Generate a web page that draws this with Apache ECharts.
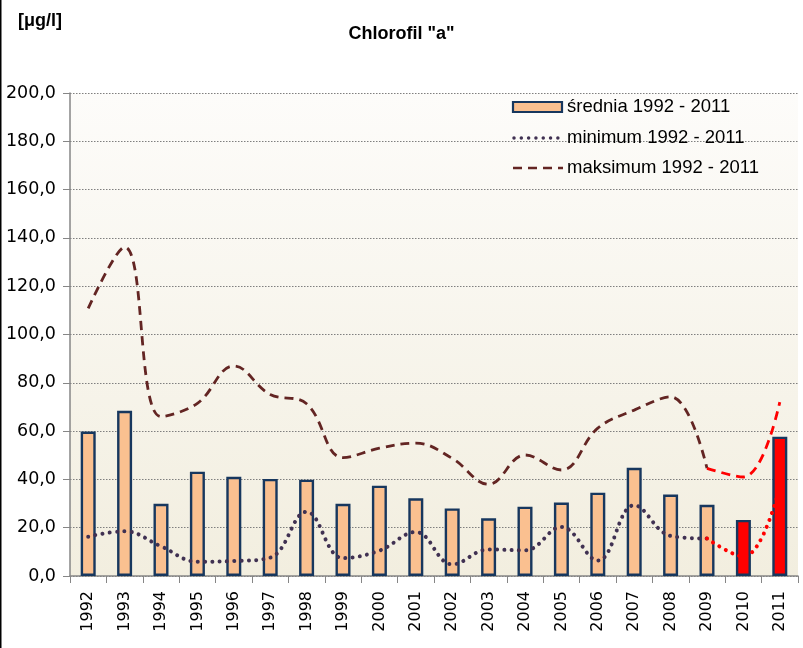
<!DOCTYPE html>
<html><head><meta charset="utf-8">
<script src="https://cdn.jsdelivr.net/npm/echarts@6/dist/echarts.min.js"></script>
<style>html,body{margin:0;padding:0;background:#fff}#c{width:803px;height:648px}</style>
</head><body><div id="c"></div>
<script>
var years = ['1992','1993','1994','1995','1996','1997','1998','1999','2000','2001','2002','2003','2004','2005','2006','2007','2008','2009','2010','2011'];
var srednia = [59.8,68.4,29.9,43.2,41.1,40.2,39.9,29.9,37.4,32.2,28.0,23.9,28.7,30.4,34.5,44.8,33.7,29.5,23.2,57.7];
var minimum = [16.3,18.5,12.3,5.9,6.2,7.6,26.6,7.4,10.5,18.2,4.8,11.0,10.6,20.3,6.4,29.3,16.6,15.5,8.0,37.0];
var maksimum = [110.8,136.2,66.0,71.5,87.0,75.2,71.3,49.0,52.9,55.0,48.7,38.0,50.1,43.9,61.2,68.7,74.2,44.6,41.0,72.0];
var legendNames = ['średnia 1992 - 2011','minimum 1992 - 2011','maksimum 1992 - 2011'];
var highlightFrom = 17; // red segment starts at 2009
var redBars = ['2010','2011'];

var chart = echarts.init(document.getElementById('c'));
function part(arr, from, to){ return arr.map(function(v,i){ return (i>=from && i<=to) ? v : '-'; }); }
var barData = srednia.map(function(v,i){
  return redBars.indexOf(years[i])>=0 ? {value:v, itemStyle:{color:'#FF0000'}} : v;
});
var dotted = [0.01, 7.3];
var dashed = [9, 6];
var lx = 513, ly = [107, 138, 168];
var legendFont = '18.5px "Liberation Sans"';
chart.setOption({
  animation:false,
  backgroundColor:'#ffffff',
  title:{text:'Chlorofil "a"', left:'center', top:20,
    textStyle:{fontFamily:'Liberation Sans', fontSize:18, fontWeight:'bold', color:'#000'}},
  graphic:[
    {type:'text', left:18, top:12, style:{text:'[μg/l]', font:'bold 18px "Liberation Sans"', fill:'#000'}},
    {type:'rect', shape:{x:0,y:0,width:1.5,height:648}, style:{fill:'#000'}, z:100},
    {type:'rect', shape:{x:lx, y:ly[0]-5, width:49, height:10}, style:{fill:'#FAC090', stroke:'#17375E', lineWidth:2.2}, z:100},
    {type:'line', shape:{x1:lx+1, y1:ly[1], x2:lx+50, y2:ly[1]}, style:{stroke:'#403152', lineWidth:3.5, lineDash:dotted, lineCap:'round'}, z:100},
    {type:'line', shape:{x1:lx, y1:ly[2], x2:lx+50, y2:ly[2]}, style:{stroke:'#632523', lineWidth:2.5, lineDash:dashed}, z:100},
    {type:'text', x:lx+54, y:ly[0], style:{text:legendNames[0], font:legendFont, fill:'#000', verticalAlign:'middle'}, z:100},
    {type:'text', x:lx+54, y:ly[1], style:{text:legendNames[1], font:legendFont, fill:'#000', verticalAlign:'middle'}, z:100},
    {type:'text', x:lx+54, y:ly[2], style:{text:legendNames[2], font:legendFont, fill:'#000', verticalAlign:'middle'}, z:100}
  ],
  grid:{left:70, right:5, top:93, bottom:72, show:true, borderWidth:0,
    backgroundColor:{type:'linear', x:0, y:0, x2:0, y2:1,
      colorStops:[{offset:0,color:'#FDFCFA'},{offset:1,color:'#F2EEDF'}]}},
  xAxis:{type:'category', data:years, boundaryGap:true,
    axisLine:{lineStyle:{color:'#868686', width:1.5}},
    axisTick:{show:true, length:7, lineStyle:{color:'#868686'}},
    axisLabel:{rotate:90, fontFamily:'DejaVu Sans', fontSize:16, color:'#000', margin:15}},
  yAxis:{type:'value', min:0, max:200, interval:20,
    axisLine:{show:true, lineStyle:{color:'#868686', width:1.5}},
    axisTick:{show:true, length:7, lineStyle:{color:'#868686'}},
    splitLine:{lineStyle:{color:'#7f7f7f', type:[1.5,1.5], width:1}},
    axisLabel:{fontFamily:'DejaVu Sans', fontSize:17.5, color:'#000', margin:14,
      formatter:function(v){return v.toFixed(1).replace('.',',');}}},
  series:[
    {name:legendNames[0], type:'bar', data:barData, barWidth:15, z:1,
      itemStyle:{color:'#FAC090', borderColor:'#17375E', borderWidth:2.4}},
    {name:legendNames[1], type:'line', data:part(minimum,0,highlightFrom), smooth:0.4,
      showSymbol:false, symbol:'none', z:3,
      lineStyle:{color:'#403152', width:4, type:dotted, cap:'round'}},
    {name:legendNames[2], type:'line', data:part(maksimum,0,highlightFrom), smooth:0.4,
      showSymbol:false, symbol:'none', z:3,
      lineStyle:{color:'#632523', width:2.8, type:dashed}},
    {name:'minRed', type:'line', data:part(minimum,highlightFrom,19), smooth:0.4,
      showSymbol:false, symbol:'none', z:3,
      lineStyle:{color:'#FF0000', width:4, type:dotted, cap:'round'}},
    {name:'maxRed', type:'line', data:part(maksimum,highlightFrom,19), smooth:0.4,
      showSymbol:false, symbol:'none', z:3,
      lineStyle:{color:'#FF0000', width:2.8, type:dashed}}
  ]
});
</script></body></html>
